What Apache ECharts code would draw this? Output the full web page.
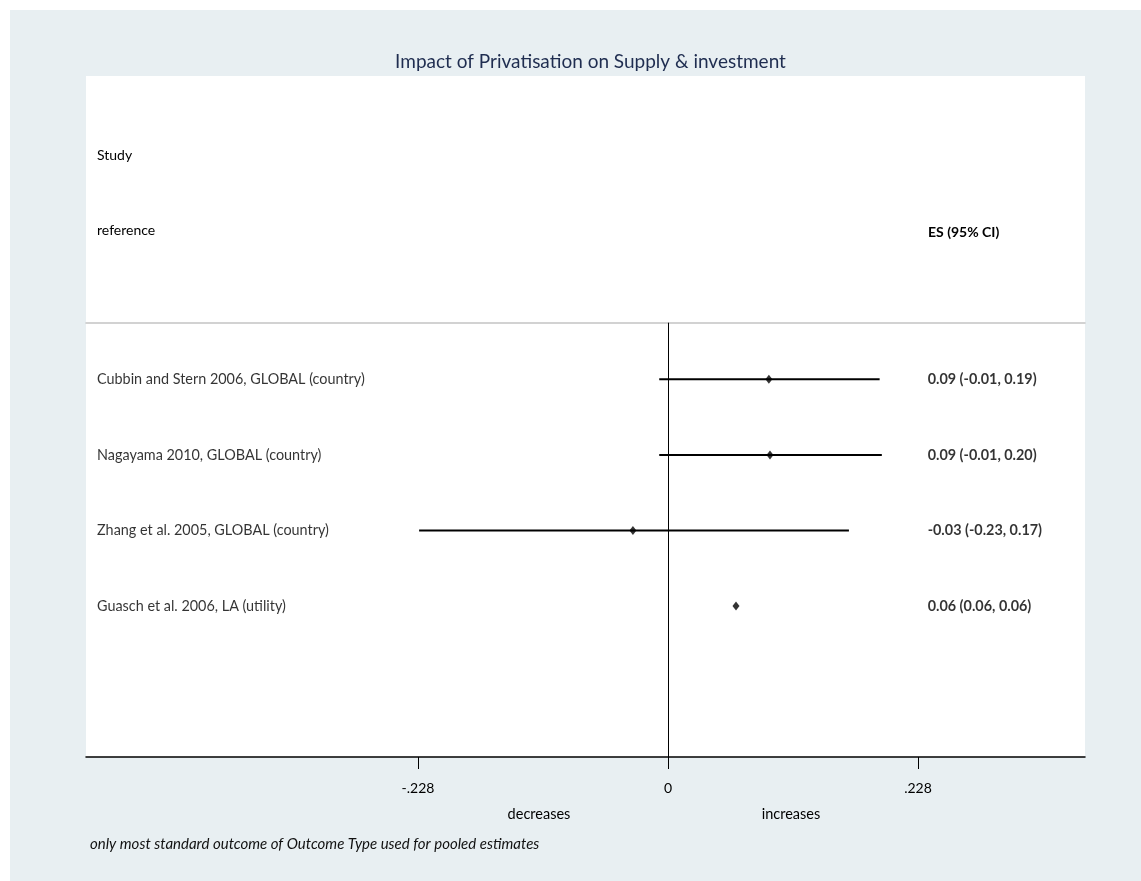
<!DOCTYPE html>
<html>
<head>
<meta charset="utf-8">
<script src="https://cdn.jsdelivr.net/npm/echarts@6/dist/echarts.min.js"></script>
<style>
html,body{margin:0;padding:0;background:#ffffff;}
#chart{width:1141px;height:881px;}
</style>
</head>
<body>
<div id="chart"></div>
<script>
// ---- data ----
const studies = [
  "Cubbin and Stern 2006, GLOBAL (country)",
  "Nagayama 2010, GLOBAL (country)",
  "Zhang et al. 2005, GLOBAL (country)",
  "Guasch et al. 2006, LA (utility)"
];
const effect = [0.092, 0.093, -0.032, 0.062];
const ciLow  = [-0.008, -0.008, -0.227, 0.062];
const ciHigh = [0.193, 0.195, 0.165, 0.062];
const esLabels = [
  "0.09 (-0.01, 0.19)",
  "0.09 (-0.01, 0.20)",
  "-0.03 (-0.23, 0.17)",
  "0.06 (0.06, 0.06)"
];
const tickValues = [-0.228, 0, 0.228];
const tickLabels = ["-.228", "0", ".228"];

// ---- layout constants ----
const X_MIN = -0.5308, X_MAX = 0.3803;
const ES_COL_X = 0.2368;
const FONT = "Lato";

const rows = studies.map((s, i) => i + 1);

const chart = echarts.init(document.getElementById('chart'), null, {renderer: 'canvas'});

const option = {
  backgroundColor: '#ffffff',
  animation: false,
  title: {
    text: 'Impact of Privatisation on Supply & investment',
    left: 585.5, top: 47, textAlign: 'center',
    textStyle: {fontFamily: FONT, fontWeight: 'normal', fontSize: 19, color: '#1f2d50'}
  },
  graphic: [
    {type: 'rect', z: -10, silent: true, shape: {x: 10, y: 10, width: 1131, height: 871}, style: {fill: '#e8eff2'}},
    {type: 'rect', z: -9, silent: true, shape: {x: 86, y: 76, width: 999, height: 681}, style: {fill: '#ffffff'}},
    {type: 'text', x: 97, y: 155, style: {text: 'Study', fontFamily: FONT, fontSize: 14, fill: '#000', verticalAlign: 'middle'}},
    {type: 'text', x: 97, y: 230, style: {text: 'reference', fontFamily: FONT, fontSize: 14, fill: '#000', verticalAlign: 'middle'}},
    {type: 'text', x: 928, y: 232, style: {text: 'ES (95% CI)', fontFamily: FONT, fontSize: 14, fontWeight: 'bold', fill: '#000', verticalAlign: 'middle'}},
    {type: 'text', x: 539, y: 814, style: {text: 'decreases', fontFamily: FONT, fontSize: 14.5, fill: '#000', align: 'center', verticalAlign: 'middle'}},
    {type: 'text', x: 791, y: 814, style: {text: 'increases', fontFamily: FONT, fontSize: 14.5, fill: '#000', align: 'center', verticalAlign: 'middle'}},
    {type: 'text', x: 90, y: 844, style: {text: 'only most standard outcome of Outcome Type used for pooled estimates', fontFamily: FONT, fontSize: 15, fontStyle: 'italic', fill: '#111', verticalAlign: 'middle'}}
  ],
  grid: {left: 86, right: 56, top: 322.7, bottom: 124, containLabel: false},
  xAxis: [
    {
      type: 'value', position: 'bottom', min: X_MIN, max: X_MAX,
      splitLine: {show: false},
      axisLine: {show: true, onZero: false, lineStyle: {color: '#000', width: 1.5}},
      axisTick: {show: true, customValues: tickValues, length: 12, lineStyle: {color: '#000', width: 1}},
      axisLabel: {
        show: true, customValues: tickValues, margin: 24,
        fontFamily: FONT, fontSize: 14, color: '#000',
        formatter: (v) => { const i = tickValues.findIndex(t => Math.abs(t - v) < 1e-9); return i >= 0 ? tickLabels[i] : ''; }
      }
    },
    {
      type: 'value', position: 'top', min: X_MIN, max: X_MAX,
      splitLine: {show: false},
      axisLine: {show: true, onZero: false, lineStyle: {color: '#c4c4c4', width: 1.5}},
      axisTick: {show: false}, axisLabel: {show: false}
    }
  ],
  yAxis: {
    type: 'value', min: 0.25, max: 6, inverse: true,
    show: false, splitLine: {show: false}
  },
  series: [
    {
      type: 'custom', name: 'CI', xAxisIndex: 0,
      data: rows.map((r, i) => [ciLow[i], ciHigh[i], r]),
      renderItem: (params, api) => {
        const a = api.coord([api.value(0), api.value(2)]);
        const b = api.coord([api.value(1), api.value(2)]);
        return {type: 'line', shape: {x1: a[0], y1: a[1], x2: b[0], y2: b[1]}, style: {stroke: '#000', lineWidth: 2}};
      },
      markLine: {
        silent: true, symbol: 'none', label: {show: false},
        lineStyle: {color: '#000', width: 1, type: 'solid'},
        data: [{xAxis: 0}]
      },
      z: 3
    },
    {
      type: 'scatter', name: 'ES', xAxisIndex: 0,
      symbol: 'diamond', symbolSize: [7, 9],
      itemStyle: {color: '#000'},
      data: rows.map((r, i) => [effect[i], r]),
      z: 4
    },
    {
      type: 'scatter', name: 'studies', xAxisIndex: 0, symbolSize: 0, silent: true,
      data: rows.map((r, i) => ({value: [X_MIN, r], label: {formatter: studies[i]}})),
      label: {show: true, position: 'right', distance: 11, fontFamily: FONT, fontSize: 14.4, color: '#000'}
    },
    {
      type: 'scatter', name: 'esText', xAxisIndex: 0, symbolSize: 0, silent: true,
      data: rows.map((r, i) => ({value: [ES_COL_X, r], label: {formatter: esLabels[i]}})),
      label: {show: true, position: 'right', distance: 0, fontFamily: FONT, fontSize: 14.4, fontWeight: 'bold', color: '#000'}
    }
  ]
};
chart.setOption(option);
</script>
</body>
</html>
